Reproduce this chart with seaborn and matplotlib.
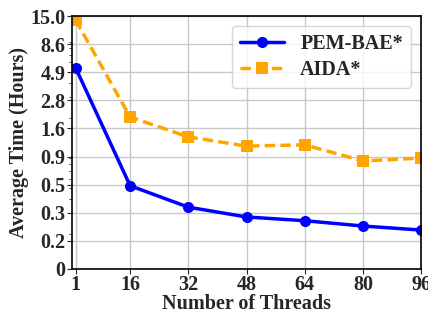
import numpy as np
import pandas as pd
import matplotlib
matplotlib.use("Agg")
import matplotlib.pyplot as plt
import matplotlib.ticker as mticker
import seaborn as sns

# data
threads = [1, 16, 32, 48, 64, 80, 96]
pem_bae = [5.4, 0.52, 0.34, 0.28, 0.26, 0.234, 0.216]
aida = [13.9, 2.03, 1.37, 1.14, 1.17, 0.85, 0.90]
y_ticks = np.logspace(np.log10(0.1), np.log10(15), 10)
y_labels = ["0", "0.2", "0.3", "0.5", "0.9", "1.6", "2.8", "4.9", "8.6", "15.0"]
x_ticks = [1, 16, 32, 48, 64, 80, 96]

df = pd.DataFrame({
    "threads": threads * 2,
    "time": pem_bae + aida,
    "method": ["PEM-BAE*"] * 7 + ["AIDA*"] * 7,
})

sns.set_style("ticks")
plt.rcParams["font.family"] = ["Liberation Serif", "DejaVu Serif"]
plt.rcParams["font.weight"] = "bold"

fig, ax = plt.subplots(figsize=(4.28, 3.16), dpi=100)
fig.subplots_adjust(left=0.168, right=0.984, top=0.949, bottom=0.149)

sns.lineplot(data=df, x="threads", y="time", hue="method", style="method",
             palette={"PEM-BAE*": "blue", "AIDA*": "orange"},
             markers={"PEM-BAE*": "o", "AIDA*": "s"},
             dashes={"PEM-BAE*": "", "AIDA*": (3, 1.5)},
             linewidth=2.5, markersize=8, markeredgewidth=0, ax=ax)

ax.set_yscale("log")
ax.set_ylim(0.1, 15)
ax.set_xlim(0, 96)
ax.set_yticks(y_ticks)
ax.set_yticklabels(y_labels)
ax.yaxis.set_minor_locator(mticker.LogLocator(base=10, subs=np.arange(2, 10) * 0.1 * 10, numticks=20))
ax.yaxis.set_minor_formatter(mticker.NullFormatter())
ax.set_xticks(x_ticks)
ax.tick_params(axis="both", which="major", labelsize=14.5, pad=1, length=3.5)
ax.tick_params(axis="y", which="minor", length=2, left=True)
for lab in ax.get_xticklabels() + ax.get_yticklabels():
    lab.set_fontweight("bold")
ax.grid(True, which="major", color="#c8c8c8", linewidth=1)
for s in ax.spines.values():
    s.set_color("black")
    s.set_linewidth(1.2)

ax.set_xlabel("Number of Threads", fontsize=14.5, fontweight="bold", labelpad=-1)
ax.set_ylabel("Average Time (Hours)", fontsize=14.5, fontweight="bold", labelpad=1)

leg = ax.legend(loc="upper right", fontsize=14.5, frameon=True, handlelength=2.2,
                borderpad=0.4, labelspacing=0.3, handletextpad=0.8)
for t in leg.get_texts():
    t.set_fontweight("bold")

fig.savefig("out.png", dpi=100)
